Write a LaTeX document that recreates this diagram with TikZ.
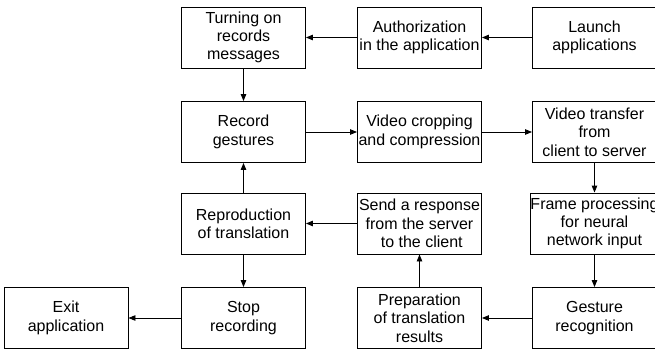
\documentclass[tikz,border=0pt]{standalone}
\usepackage{fontspec}
\setmainfont{Liberation Sans}
\usetikzlibrary{arrows.meta}
\begin{document}
\begin{tikzpicture}[x=1pt,y=-1pt,
  box/.style={draw=black,line width=0.9pt,minimum width=124pt,minimum height=61pt,
    inner sep=0pt,align=center,font=\fontsize{16}{18.3}\selectfont},
  arr/.style={line width=0.9pt,-{Triangle[length=7pt,width=5.5pt]}}]
\useasboundingbox (0,0) rectangle (655,351);
\node[box] (launch) at (594.5,37.5) {Launch\\applications};
\node[box] (auth) at (419.5,37.5) {Authorization\\in the application};
\node[box] (turn) at (243.5,37.5) {Turning on\\records\\messages};
\node[box] (rec) at (243.5,132) {Record\\gestures};
\node[box] (crop) at (419.5,132) {Video cropping\\and compression};
\node[box] (transfer) at (594.5,132) {Video transfer\\from\\client to server};
\node[box] (frame) at (594.5,223.5) {Frame processing\\for neural\\network input};
\node[box] (send) at (419.5,223.5) {Send a response\\from the server\\\ to the client};
\node[box] (repro) at (243.5,223.5) {Reproduction\\of translation};
\node[box] (gest) at (594.5,318) {Gesture\\recognition};
\node[box] (prep) at (419.5,318) {Preparation\\of translation\\results};
\node[box] (stop) at (243.5,318) {Stop\\recording};
\node[box] (exit) at (66,318) {Exit\\application};
\draw[arr] (launch) -- (auth);
\draw[arr] (auth) -- (turn);
\draw[arr] (turn) -- (rec);
\draw[arr] (rec) -- (crop);
\draw[arr] (crop) -- (transfer);
\draw[arr] (transfer) -- (frame);
\draw[arr] (frame) -- (gest);
\draw[arr] (gest) -- (prep);
\draw[arr] (prep) -- (send);
\draw[arr] (send) -- (repro);
\draw[arr] (repro) -- (rec);
\draw[arr] (repro) -- (stop);
\draw[arr] (stop) -- (exit);
\end{tikzpicture}
\end{document}
